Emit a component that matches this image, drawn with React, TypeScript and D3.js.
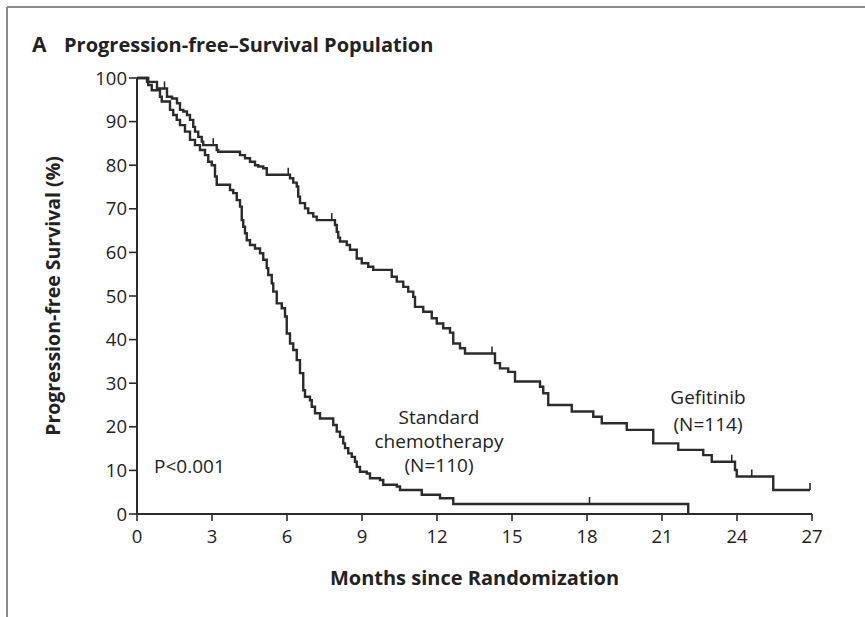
import React from "react";
import * as d3 from "d3";

const width = 865;
const height = 617;
const margin = { top: 78, right: 53, bottom: 103, left: 137 };

// Kaplan-Meier step points: time (months) and survival (%) after each drop
const gefTime = [0, 0.4, 0.8, 1.2, 1.4, 1.6, 1.72, 1.85, 2.0, 2.12, 2.25, 2.32, 2.45, 2.59, 2.65, 3.19, 3.25, 4.12, 4.32, 4.52, 4.72, 4.85, 5.05, 5.19, 6.12, 6.25, 6.39, 6.45, 6.52, 6.72, 6.85, 7.05, 7.19, 7.92, 7.99, 8.05, 8.12, 8.39, 8.52, 8.79, 8.99, 9.25, 9.45, 10.19, 10.39, 10.65, 10.85, 11.05, 11.12, 11.45, 11.79, 11.99, 12.25, 12.52, 12.65, 12.92, 13.12, 14.32, 14.52, 14.85, 15.12, 16.12, 16.25, 16.45, 17.39, 18.25, 18.59, 19.59, 20.65, 21.65, 22.65, 22.99, 23.92, 23.99, 25.45, 26.92];
const gefSurv = [100, 99.1, 97.6, 95.7, 95.3, 94.2, 92.7, 92.3, 91.5, 90.4, 88.8, 87.7, 86.5, 85.4, 84.6, 83.5, 83.1, 82.3, 81.6, 80.8, 80.0, 79.7, 79.3, 77.8, 77.0, 76.0, 75.1, 72.8, 71.3, 70.1, 69.0, 68.2, 67.4, 66.3, 64.7, 63.4, 62.5, 61.7, 60.6, 58.6, 57.5, 56.7, 56.0, 54.4, 53.3, 52.1, 51.0, 49.8, 47.5, 46.4, 44.9, 43.7, 42.6, 41.6, 39.1, 38.0, 36.8, 34.6, 33.4, 32.6, 30.4, 29.2, 27.7, 25.0, 23.5, 22.3, 20.8, 19.3, 16.2, 14.7, 13.5, 12.0, 10.1, 8.6, 5.5, 5.5];
const gefCensor = [1.1, 3.05, 6.05, 7.79, 14.2, 23.79, 24.59, 26.92];

const chemoTime = [0, 0.45, 0.59, 0.92, 0.99, 1.32, 1.45, 1.59, 1.72, 1.92, 2.12, 2.32, 2.52, 2.72, 2.85, 2.99, 3.12, 3.19, 3.72, 3.85, 3.99, 4.12, 4.19, 4.25, 4.32, 4.39, 4.52, 4.72, 4.92, 5.05, 5.19, 5.25, 5.39, 5.45, 5.59, 5.79, 5.92, 5.99, 6.12, 6.25, 6.39, 6.52, 6.65, 6.72, 6.92, 6.99, 7.12, 7.32, 7.85, 7.99, 8.12, 8.25, 8.32, 8.45, 8.59, 8.72, 8.79, 8.92, 9.19, 9.32, 9.72, 9.85, 10.39, 10.52, 11.39, 12.12, 12.65, 22.05];
const chemoSurv = [100, 98.4, 97.2, 95.7, 94.6, 92.7, 91.5, 90.4, 89.2, 87.7, 85.8, 84.6, 83.5, 82.3, 80.8, 80.0, 77.4, 75.5, 74.3, 73.6, 72.0, 70.5, 67.4, 65.9, 64.4, 62.8, 61.7, 60.9, 59.8, 58.3, 56.4, 54.8, 52.9, 51.0, 48.3, 47.2, 45.3, 41.4, 39.1, 37.6, 35.3, 32.3, 28.4, 26.9, 26.1, 24.6, 23.1, 21.9, 20.4, 18.9, 17.7, 16.2, 15.1, 13.9, 13.1, 12.0, 10.8, 9.7, 9.3, 8.2, 7.8, 6.7, 6.3, 5.5, 4.4, 3.6, 2.3, 0];
const chemoCensor = [18.1];

const xTicks = [0, 3, 6, 9, 12, 15, 18, 21, 24, 27];
const yTicks = [0, 10, 20, 30, 40, 50, 60, 70, 80, 90, 100];

const font = "'Open Sans', 'DejaVu Sans', sans-serif";
const ink = "#2b2b2b";

const survAt = (times: number[], surv: number[], t: number) =>
  surv[Math.max(0, d3.bisectRight(times, t) - 1)];

export default function App() {
  const x = d3.scaleLinear().domain([0, 27]).range([margin.left, width - margin.right]);
  const y = d3.scaleLinear().domain([0, 100]).range([height - margin.bottom, margin.top]);

  const line = d3
    .line<[number, number]>()
    .x(d => x(d[0]))
    .y(d => y(d[1]))
    .curve(d3.curveStepAfter);

  const gef = line(gefTime.map((t, i) => [t, gefSurv[i]]));
  const chemo = line(chemoTime.map((t, i) => [t, chemoSurv[i]]));

  const censors = [
    ...gefCensor.map(t => [t, survAt(gefTime, gefSurv, t)]),
    ...chemoCensor.map(t => [t, survAt(chemoTime, chemoSurv, t)])
  ];

  const y0 = y(0);
  const x0 = x(0);

  return (
    <svg width={width} height={height} style={{ position: "absolute", left: 0, top: 0, background: "#fff" }}>
      {/* frame */}
      <line x1={7} y1={7} x2={width} y2={7} stroke="#8a8a8a" strokeWidth={2} />
      <line x1={7} y1={7} x2={7} y2={height} stroke="#8a8a8a" strokeWidth={2} />

      <text x={32} y={52} fontFamily={font} fontWeight={700} fontSize={21} fill="#222">A</text>
      <text x={64} y={52} fontFamily={font} fontWeight={700} fontSize={20} fill="#222">
        Progression-free–Survival Population
      </text>

      {/* axes */}
      <line x1={x0} y1={y0} x2={x(27)} y2={y0} stroke={ink} strokeWidth={2} />
      <line x1={x0} y1={y0} x2={x0} y2={y(100)} stroke={ink} strokeWidth={2} />
      {xTicks.map(t => (
        <g key={"x" + t}>
          <line x1={x(t)} x2={x(t)} y1={y0} y2={y0 + 7} stroke={ink} strokeWidth={1.6} />
          <text x={x(t)} y={y0 + 29} textAnchor="middle" fontFamily={font} fontSize={18.5} fill="#222">{t}</text>
        </g>
      ))}
      {yTicks.map(t => (
        <g key={"y" + t}>
          <line x1={x0 - 8} x2={x0} y1={y(t)} y2={y(t)} stroke={ink} strokeWidth={1.6} />
          <text x={x0 - 10} y={y(t) + 6.5} textAnchor="end" fontFamily={font} fontSize={18.5} fill="#222">{t}</text>
        </g>
      ))}

      <text
        transform={`translate(60,${(y(0) + y(100)) / 2}) rotate(-90)`}
        textAnchor="middle"
        fontFamily={font}
        fontWeight={700}
        fontSize={19.5}
        fill="#222"
      >
        Progression-free Survival (%)
      </text>
      <text x={(x(0) + x(27)) / 2} y={585} textAnchor="middle" fontFamily={font} fontWeight={700} fontSize={20} fill="#222">
        Months since Randomization
      </text>

      {/* curves */}
      <path d={chemo ?? ""} fill="none" stroke={ink} strokeWidth={2.4} />
      <path d={gef ?? ""} fill="none" stroke={ink} strokeWidth={2.4} />
      {censors.map(([t, s], i) => (
        <line key={"c" + i} x1={x(t)} x2={x(t)} y1={y(s)} y2={y(s) - 7} stroke={ink} strokeWidth={1.6} />
      ))}

      {/* annotations */}
      <g fontFamily={font} fontSize={19} fill="#222" textAnchor="middle">
        <text x={439} y={424}>Standard</text>
        <text x={439} y={448}>chemotherapy</text>
        <text x={439} y={472}>(N=110)</text>
        <text x={708} y={404}>Gefitinib</text>
        <text x={708} y={431}>(N=114)</text>
      </g>
      <text x={154} y={473} fontFamily={font} fontSize={19} fill="#222">P&lt;0.001</text>
    </svg>
  );
}
